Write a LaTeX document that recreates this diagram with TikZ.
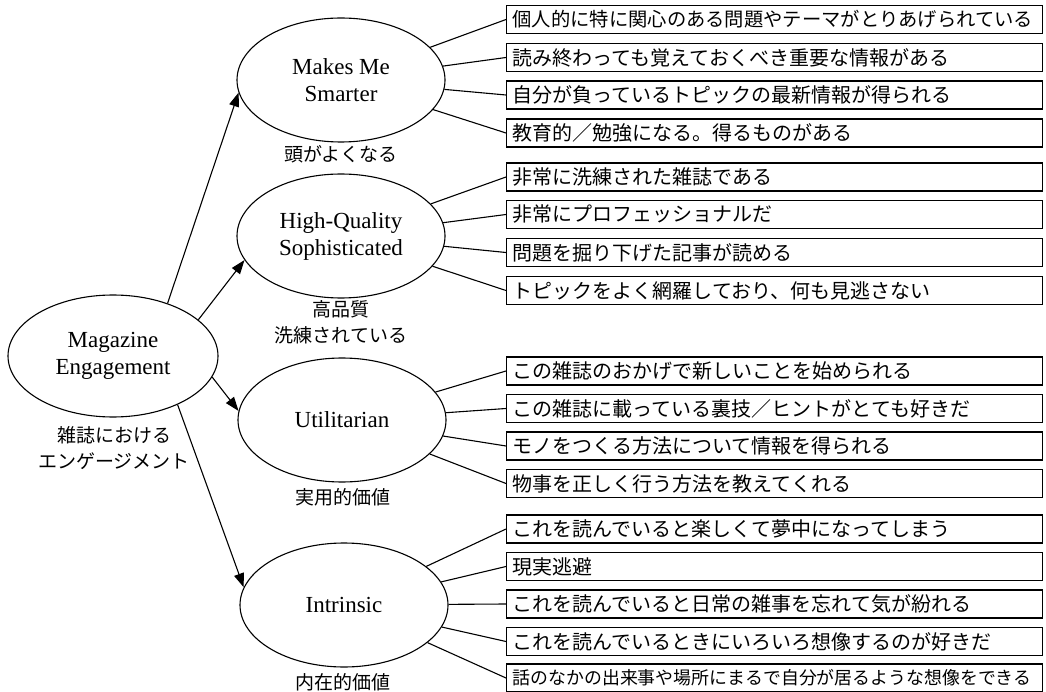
\documentclass[tikz,border=0pt]{standalone}
\usepackage{fontspec}
\setmainfont{Liberation Serif}
\newfontfamily\jp{Noto Sans CJK JP}
\usetikzlibrary{arrows.meta,shapes.geometric}
\begin{document}
\begin{tikzpicture}[x=1pt,y=-1pt,
  oval/.style={draw, ellipse, line width=1.1pt, minimum width=208pt, minimum height=124pt, inner sep=0pt, align=center, font=\fontsize{23}{27}\selectfont},
  itembox/.style={draw, rectangle, line width=1.3pt, anchor=west, minimum height=28pt, text width=524pt, inner xsep=6pt, inner ysep=0pt, align=left, font=\jp\fontsize{20}{24}\selectfont},
  lbl/.style={align=center, font=\jp\fontsize{19}{26}\selectfont, inner sep=0pt},
  link/.style={line width=1.1pt},
  arr/.style={line width=1.1pt, -{Triangle[length=14pt,width=10pt]}},
]
\useasboundingbox (0,0) rectangle (1046,692);

% main node
\node[oval, minimum width=210pt, minimum height=122pt] (main) at (113,356) {Magazine\\Engagement};
\node[lbl] (mainlbl) at (114,448) {雑誌における\\エンゲージメント};

% second level
\node[oval] (ms) at (341,80) {Makes Me\\Smarter};
\node[lbl] (mslbl) at (341,154) {頭がよくなる};
\node[oval] (hq) at (341,236) {High-Quality\\Sophisticated};
\node[lbl] (hqlbl) at (341,322) {高品質\\洗練されている};
\node[oval] (ut) at (342,420) {Utilitarian};
\node[lbl] (utlbl) at (343,497) {実用的価値};
\node[oval] (in) at (344,605) {Intrinsic};
\node[lbl] (inlbl) at (343,682) {内在的価値};

% arrows
\draw[arr] (main.44.5) -- (ms.187);
\draw[arr] (main.23.6) -- (hq.194);
\draw[arr] (main.-12) -- (ut.175.5);
\draw[arr] (main.-37) -- (in.170.5);

% group 1
\node[itembox, font=\jp\fontsize{19.3}{24}\selectfont] (a1) at (506,19.5) {個人的に特に関心のある問題やテーマがとりあげられている};
\node[itembox] (a2) at (506,57.5) {読み終わっても覚えておくべき重要な情報がある};
\node[itembox] (a3) at (506,95) {自分が負っているトピックの最新情報が得られる};
\node[itembox] (a4) at (506,133) {教育的／勉強になる。得るものがある};
% group 2
\node[itembox] (b1) at (506,177) {非常に洗練された雑誌である};
\node[itembox] (b2) at (506,214.5) {非常にプロフェッショナルだ};
\node[itembox] (b3) at (506,252.5) {問題を掘り下げた記事が読める};
\node[itembox] (b4) at (506,290.5) {トピックをよく網羅しており、何も見逃さない};
% group 3
\node[itembox] (c1) at (506,371) {この雑誌のおかげで新しいことを始められる};
\node[itembox] (c2) at (506,408.5) {この雑誌に載っている裏技／ヒントがとても好きだ};
\node[itembox] (c3) at (506,446) {モノをつくる方法について情報を得られる};
\node[itembox] (c4) at (506,483.5) {物事を正しく行う方法を教えてくれる};
% group 4
\node[itembox] (d1) at (506,529) {これを読んでいると楽しくて夢中になってしまう};
\node[itembox] (d2) at (506,566.5) {現実逃避};
\node[itembox] (d3) at (506,604) {これを読んでいると日常の雑事を忘れて気が紛れる};
\node[itembox] (d4) at (506,641.5) {これを読んでいるときにいろいろ想像するのが好きだ};
\node[itembox, font=\jp\fontsize{17.9}{24}\selectfont] (d5) at (506,678) {話のなかの出来事や場所にまるで自分が居るような想像をできる};

% links
\foreach \b in {a1,a2,a3,a4} \draw[link] (\b.west) -- (ms);
\foreach \b in {b1,b2,b3,b4} \draw[link] (\b.west) -- (hq);
\foreach \b in {c1,c2,c3,c4} \draw[link] (\b.west) -- (ut);
\foreach \b in {d1,d2,d3,d4,d5} \draw[link] (\b.west) -- (in);
\end{tikzpicture}
\end{document}
